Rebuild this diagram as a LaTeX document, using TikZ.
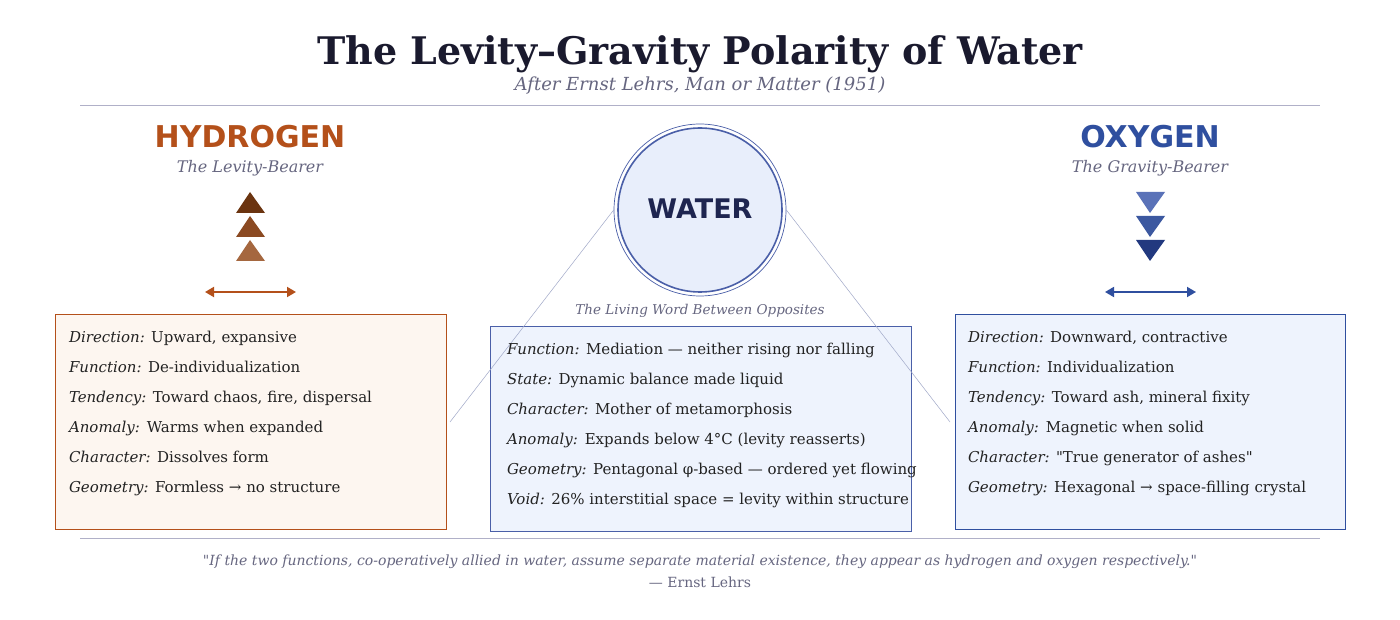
\documentclass[tikz,border=0pt]{standalone}
\usepackage{fontspec}
\setmainfont{DejaVu Serif}[Ligatures=TeXOff]
\newfontfamily\sansb{DejaVu Sans}
\usetikzlibrary{arrows.meta}
\definecolor{titlec}{HTML}{1A1A2E}
\definecolor{greyc}{HTML}{666680}
\definecolor{hyd}{HTML}{B4501A}
\definecolor{oxy}{HTML}{2F4F9F}
\definecolor{ht1}{HTML}{6B3410}
\definecolor{ht2}{HTML}{8B4A22}
\definecolor{ht3}{HTML}{A5673F}
\definecolor{ot1}{HTML}{5A72B8}
\definecolor{ot2}{HTML}{3C58A0}
\definecolor{ot3}{HTML}{22397F}
\definecolor{wfill}{HTML}{E8EEFB}
\definecolor{wstroke}{HTML}{4A5FA8}
\definecolor{wtext}{HTML}{1E2550}
\definecolor{lfill}{HTML}{FDF6F0}
\definecolor{bfill}{HTML}{EEF3FD}
\definecolor{rule}{HTML}{B0B0C8}
\definecolor{conn}{HTML}{A0A8C8}
\definecolor{body}{HTML}{222222}
\tikzset{
  txt/.style={anchor=base, inner sep=0pt, outer sep=0pt},
  line/.style={txt, anchor=base west, font=\fontsize{15}{18}\selectfont, text=body},
  infobox/.style={draw, line width=0.8pt},
  rulec/.style={draw=rule, line width=0.8pt},
  dbl/.style={{Triangle[length=9pt,width=10pt]}-{Triangle[length=9pt,width=10pt]}, line width=1.8pt},
  connector/.style={draw=conn, line width=0.5pt}
}
\newcommand{\anom}{\textit{Anomaly:}\hspace{2pt}\ }
\begin{document}
\begin{tikzpicture}[x=1pt,y=-1pt]
\useasboundingbox (0,0) rectangle (1400,620);
\fill[white] (0,0) rectangle (1400,620);
% title
\node[txt, text=titlec] (title) at (700,65) {\fontsize{38}{42}\selectfont\bfseries The Levity–Gravity Polarity of Water};
\node[txt, text=greyc] (subtitle) at (700,91) {\fontsize{18}{21}\selectfont\itshape After Ernst Lehrs, Man or Matter (1951)};
\draw[rulec] (80,105) coordinate (r1a) -- (1320,105) coordinate (r1b);
% hydrogen
\node[txt, text=hyd] (hyd) at (250,148) {\sansb\fontsize{30}{33}\selectfont\bfseries HYDROGEN};
\node[txt, text=greyc] (hydsub) at (250,173) {\fontsize{16}{19}\selectfont\itshape The Levity-Bearer};
\fill[ht1] (236,213) -- (250,192) -- (265,213) -- cycle;
\fill[ht2] (236,237) -- (250,216) -- (265,237) -- cycle;
\fill[ht3] (236,261) -- (250,240) -- (265,261) -- cycle;
\coordinate (ha) at (205,292); \coordinate (hb) at (296,292);
\draw[dbl, draw=hyd, fill=hyd] (ha) -- (hb);
% oxygen
\node[txt, text=oxy] (oxy) at (1150,148) {\sansb\fontsize{30}{33}\selectfont\bfseries OXYGEN};
\node[txt, text=greyc] (oxysub) at (1150,173) {\fontsize{16}{19}\selectfont\itshape The Gravity-Bearer};
\fill[ot1] (1136,192) -- (1165,192) -- (1150,213) -- cycle;
\fill[ot2] (1136,216) -- (1165,216) -- (1150,237) -- cycle;
\fill[ot3] (1136,240) -- (1165,240) -- (1150,261) -- cycle;
\coordinate (oa) at (1105,292); \coordinate (ob) at (1196,292);
\draw[dbl, draw=oxy, fill=oxy] (oa) -- (ob);
% water
\node[circle, draw=wstroke, line width=0.7pt, minimum size=172pt, inner sep=0pt] (ring) at (700,210) {};
\node[circle, draw=wstroke, fill=wfill, line width=1.6pt, minimum size=164pt, inner sep=0pt] (water) at (700,210) {};
\node[txt, text=wtext] (wlabel) at (700,219) {\sansb\fontsize{27}{30}\selectfont\bfseries WATER};
\node[txt, text=greyc] (living) at (700,315) {\fontsize{13.5}{16}\selectfont\itshape The Living Word Between Opposites};
% boxes
\draw[infobox, draw=hyd, fill=lfill] (55,314) rectangle (446,529);
\draw[infobox, draw=wstroke, fill=bfill] (490,326) rectangle (911,531);
\draw[infobox, draw=oxy, fill=bfill] (955,314) rectangle (1345,529);
% connectors
\coordinate (cl) at (450,422);
\coordinate (cr) at (950,422);
\draw[connector] (ring.west) -- (cl);
\draw[connector] (ring.east) -- (cr);
% left text
\node[line] (l1) at (69,342) {\textit{Direction:} Upward, expansive};
\node[line] (l2) at (69,372) {\textit{Function:} De-individualization};
\node[line] (l3) at (69,402) {\textit{Tendency:} Toward chaos, fire, dispersal};
\node[line] (l4) at (69,432) {\anom{}Warms when expanded};
\node[line] (l5) at (69,462) {\textit{Character:} Dissolves form};
\node[line] (l6) at (69,492) {\textit{Geometry:} Formless → no structure};
% centre text
\node[line] (c1) at (507,354) {\textit{Function:} Mediation — neither rising nor falling};
\node[line] (c2) at (507,384) {\textit{State:} Dynamic balance made liquid};
\node[line] (c3) at (507,414) {\textit{Character:} Mother of metamorphosis};
\node[line] (c4) at (507,444) {\anom{}Expands below 4°C (levity reasserts)};
\node[line] (c5) at (507,474) {\textit{Geometry:} Pentagonal φ-based — ordered yet flowing};
\node[line] (c6) at (507,504) {\textit{Void:} 26\% interstitial space = levity within structure};
% right text
\node[line] (r1) at (968,342) {\textit{Direction:} Downward, contractive};
\node[line] (r2) at (968,372) {\textit{Function:} Individualization};
\node[line] (r3) at (968,402) {\textit{Tendency:} Toward ash, mineral fixity};
\node[line] (r4) at (968,432) {\anom{}Magnetic when solid};
\node[line] (r5) at (968,462) {\textit{Character:} "True generator of ashes"};
\node[line] (r6) at (968,492) {\textit{Geometry:} Hexagonal → space-filling crystal};
% bottom
\draw[rulec] (80,538) coordinate (r2a) -- (1320,538) coordinate (r2b);
\node[txt, text=greyc] (quote) at (700,565) {\fontsize{14}{17}\selectfont\itshape "If the two functions, co-operatively allied in water, assume separate material existence, they appear as hydrogen and oxygen respectively."};
\node[txt, text=greyc] (author) at (700,587) {\fontsize{14}{17}\selectfont — Ernst Lehrs};
\end{tikzpicture}
\end{document}
